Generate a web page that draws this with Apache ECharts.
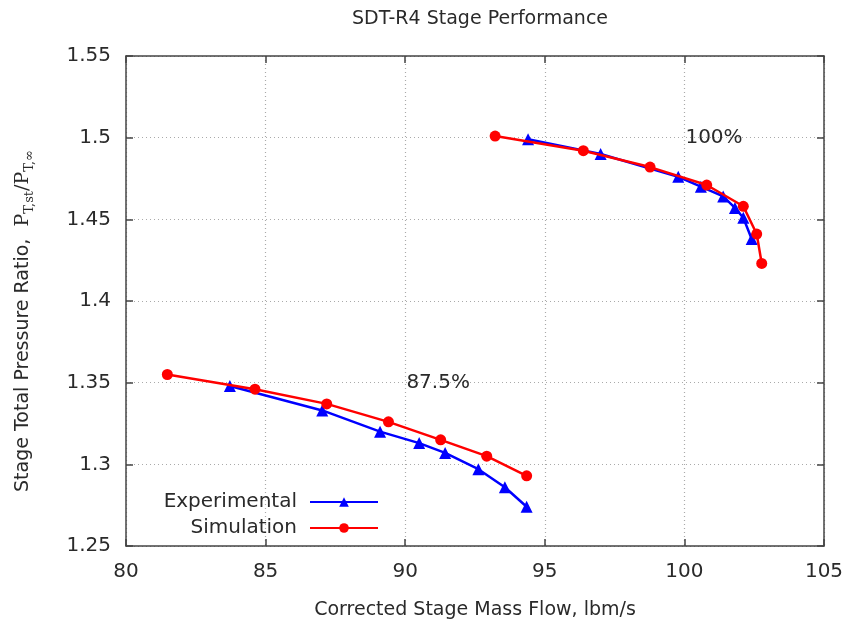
<!DOCTYPE html>
<html><head><meta charset="utf-8">
<script src="https://cdn.jsdelivr.net/npm/echarts@6/dist/echarts.min.js"></script>
<style>html,body{margin:0;padding:0;background:#fff}#c{width:852px;height:627px}</style>
</head><body><div id="c"></div>
<script>
// 100% speed line
const exp100 = [[94.40,1.499],[97.00,1.490],[99.78,1.476],[100.59,1.470],[101.39,1.464],[101.81,1.457],[102.11,1.451],[102.41,1.438]];
const sim100 = [[93.22,1.501],[96.38,1.492],[98.77,1.482],[100.80,1.471],[102.11,1.458],[102.59,1.441],[102.77,1.423]];
// 87.5% speed line
const exp875 = [[83.72,1.348],[87.03,1.333],[89.10,1.320],[90.50,1.313],[91.43,1.307],[92.62,1.297],[93.57,1.286],[94.35,1.274]];
const sim875 = [[81.48,1.355],[84.62,1.346],[87.19,1.337],[89.40,1.326],[91.27,1.315],[92.92,1.305],[94.35,1.293]];
const xTicks = [80,85,90,95,100,105];
const yTicks = [1.25,1.3,1.35,1.4,1.45,1.5,1.55];
const speedLabels = [{text:'100%', at:[101.06,1.5]},{text:'87.5%', at:[91.18,1.35]}];

const FONT = 'DejaVu Sans';
const TXT = '#2a2a2a';
const chart = echarts.init(document.getElementById('c'), null, {renderer:'canvas'});
const grid = {left:126, right:28, top:56, bottom:81};
const tickStyle = {show:true, inside:true, length:7, lineStyle:{color:'#444', width:1.5}};
const lineAx = {show:true, lineStyle:{color:'#444', width:1.5}};
function base(){return {
  type:'value', axisLine:lineAx, axisTick:tickStyle,
  splitLine:{show:false}
};}
const xMin = xTicks[0], xMax = xTicks[xTicks.length-1];
const yMin = yTicks[0], yMax = yTicks[yTicks.length-1];
const lineSeries = (name, data, color, symbol, size, mp) => ({
  name, type:'line', data, xAxisIndex:0, yAxisIndex:0,
  symbol, symbolSize:size, showSymbol:true,
  lineStyle:{color, width:2.5}, itemStyle:{color},
  emphasis:{disabled:true}, animation:false, z:symbol==='circle'?3:2,
  markPoint: mp ? {symbol:'circle', symbolSize:0, silent:true, animation:false,
    label:{show:true, position:'inside', formatter:p=>p.name, fontFamily:FONT, fontSize:20, color:TXT},
    data:[{name:mp.text, coord:mp.at}]} : undefined
});
chart.setOption({
  animation:false,
  backgroundColor:'#fff',
  title:{text:'SDT-R4 Stage Performance', left:475, textAlign:'center', top:5,
    textStyle:{fontFamily:FONT, fontSize:19, fontWeight:'normal', color:TXT}},
  grid,
  legend:{
    data:['Experimental','Simulation'], orient:'vertical', align:'right',
    right:852-384, top:487, itemWidth:68, itemHeight:12, itemGap:6,
    textStyle:{fontFamily:FONT, fontSize:20, color:TXT, lineHeight:20, padding:[0,8,0,0]},
    selectedMode:false
  },
  xAxis:[
    Object.assign(base(), {min:xMin, max:xMax, interval:5, position:'bottom',
      name:'Corrected Stage Mass Flow, lbm/s', nameLocation:'middle', nameGap:55,
      nameTextStyle:{fontFamily:FONT, fontSize:19, color:TXT},
      axisLabel:{fontFamily:FONT, fontSize:20, color:TXT, margin:16},
      splitLine:{show:true, lineStyle:{color:'#aaa', type:[1,3], width:1.2}}}),
    Object.assign(base(), {min:xMin, max:xMax, interval:5, position:'top', axisLabel:{show:false}})
  ],
  yAxis:[
    Object.assign(base(), {min:yMin, max:yMax, interval:0.05, position:'left',
      name:'{a|Stage Total Pressure Ratio,  }{p|P}{s|T,st}{p|/P}{s|T,∞}', nameLocation:'middle', nameGap:90,
      nameTextStyle:{fontFamily:FONT, fontSize:19, color:TXT, padding:[0,40,0,0],
        rich:{
          a:{fontFamily:FONT, fontSize:19, color:TXT, lineHeight:26},
          p:{fontFamily:'DejaVu Serif', fontSize:19, color:TXT, lineHeight:26},
          s:{fontFamily:'DejaVu Serif', fontSize:13, color:TXT, lineHeight:14, verticalAlign:'bottom'}
        }},
      axisLabel:{fontFamily:FONT, fontSize:20, color:TXT, margin:15, formatter:v=>String(+v.toFixed(2))},
      splitLine:{show:true, lineStyle:{color:'#aaa', type:[1,3], width:1.2}}}),
    Object.assign(base(), {min:yMin, max:yMax, interval:0.05, position:'right', axisLabel:{show:false}})
  ],
  series:[
    lineSeries('Experimental', exp875, '#0000ff', 'triangle', 12),
    lineSeries('Simulation', sim875, '#ff0000', 'circle', 11, speedLabels[1]),
    lineSeries('Experimental', exp100, '#0000ff', 'triangle', 12),
    lineSeries('Simulation', sim100, '#ff0000', 'circle', 11, speedLabels[0])
  ]
});
</script></body></html>
